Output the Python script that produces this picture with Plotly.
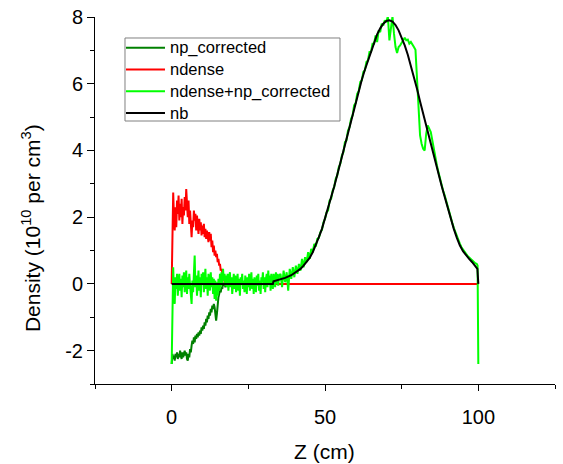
import plotly.graph_objects as go

# ---- data ----
z_fine_np = [0.25 * i for i in range(0, 77)]          # 0 .. 19 cm
np_corrected = [
    -2.4, -2.1, -2.25, -2.15, -2.3, -2.1, -2.2, -2.05, -2.25, -2.1, -2.2, -2.0, -2.15, -2.25,
    -2.05, -2.2, -2.1, -2.0, -2.15, -2.05, -2.25, -2.3, -2.1, -2.2, -1.95, -2.05, -1.85, -1.7,
    -1.8, -1.6, -1.75, -1.55, -1.65, -1.5, -1.6, -1.45, -1.55, -1.4, -1.5, -1.3, -1.4, -1.25,
    -1.35, -1.15, -1.25, -1.05, -1.15, -0.95, -1.05, -0.85, -0.95, -0.75, -0.85, -0.65, -0.75,
    -0.6, -0.7, -0.85, -1.1, -0.9, -0.55, -0.4, -0.3, -0.2, -0.25, -0.1, -0.15, 0.0, -0.05,
    0.05, -0.1, 0.05, 0.0, 0.1, -0.05, 0.05, 0.0,
]

z_nd = [0.25 * i for i in range(0, 71)] + [100]       # 0 .. 17.5 cm, then flat to 100
ndense = [
    0, 2.2, 2.74, 2.0, 1.6, 2.3, 1.7, 2.5, 2.1, 2.65, 1.9, 2.4, 2.0, 2.55, 1.8, 2.3, 2.05, 2.6,
    2.2, 2.84, 2.4, 2.0, 2.5, 1.8, 2.2, 1.6, 1.4, 1.9, 1.7, 2.2, 1.9, 2.1, 1.6, 2.05, 1.75, 1.5,
    1.95, 1.6, 1.85, 1.45, 1.75, 1.5, 1.8, 1.4, 1.65, 1.35, 1.6, 1.45, 1.25, 1.55, 1.3, 1.5,
    1.1, 1.3, 0.95, 1.15, 0.85, 1.0, 0.8, 0.9, 0.65, 0.75, 0.55, 0.6, 0.4, 0.45, 0.3, 0.25,
    0.15, 0.1, 0.0, 0.0,
]

z_sum = ([0] + [0.25 * i for i in range(1, 141)] + [35 + 0.5 * i for i in range(1, 130)]
         + [99.75, 100])
ndense_np = [
    -2.4,
    # 0.25 .. 18.0
    0.35, 0.5, -0.3, -0.6, 0.2, -0.15, 0.3, -0.35, 0.1, 0.3, -0.2, 0.15, -0.4, 0.25, -0.1,
    0.35, -0.25, 0.1, 0.4, -0.3, 0.2, -0.15, 0.3, -0.05, -0.45, -0.6, 0.1, -0.25, 0.3, 0.85,
    -0.1, 0.25, -0.35, 0.15, 0.4, -0.2, 0.2, -0.4, 0.3, 0.0, 0.35, -0.25, 0.1, 0.45, -0.15,
    0.2, -0.35, 0.3, 0.05, -0.2, 0.35, -0.1, 0.2, -0.3, 0.15, -0.45, 0.1, -0.5, 0.05, -0.35,
    0.15, -0.2, 0.3, -0.1, 0.35, 0.0, 0.45, 0.1, 0.3, -0.05, 0.25, -0.1,
    # 18.25 .. 35.0
    0.3, -0.2, 0.15, 0.35, -0.1, 0.2, -0.3, 0.1, 0.3, -0.15, 0.25, -0.25, 0.05, 0.3, -0.2,
    0.15, -0.35, 0.2, 0.0, 0.3, -0.15, 0.1, -0.25, 0.25, 0.05, -0.3, 0.2, -0.1, 0.3, -0.2,
    0.1, 0.35, -0.15, 0.15, -0.3, 0.2, 0.0, -0.25, 0.25, -0.05, 0.3, -0.2, 0.1, -0.3, 0.2,
    0.05, 0.35, -0.15, 0.2, -0.25, 0.15, 0.3, -0.1, 0.4, 0.0, 0.25, -0.2, 0.3, 0.05, -0.15,
    0.3, 0.1, -0.1, 0.35, 0.0, 0.3, -0.05, 0.25,
    # 35.5 .. 50
    0.3, -0.1, 0.4, 0.05, 0.35, -0.2, 0.45, 0.15, 0.5, 0.2, 0.55, 0.3, 0.6, 0.4, 0.75, 0.5,
    0.8, 0.65, 0.95, 0.75, 1.05, 0.95, 1.2, 1.12, 1.35, 1.38, 1.55, 1.62, 1.85, 1.95,
    # 50.5 .. 70
    2.15, 2.2, 2.5, 2.55, 2.8, 2.9, 3.15, 3.25, 3.5, 3.6, 3.85, 3.95, 4.25, 4.3, 4.6, 4.7,
    4.95, 5.05, 5.35, 5.42, 5.7, 5.78, 6.05, 6.1, 6.35, 6.4, 6.65, 6.7, 6.95, 6.95, 7.2, 7.2,
    7.45, 7.25, 7.6, 7.55, 7.8, 7.75, 7.9, 7.85,
    # 70.5 .. 85
    8.02, 7.3, 7.6, 8.02, 7.5, 7.1, 6.92, 7.1, 7.15, 7.25, 7.3, 7.38, 7.3, 7.32, 7.2, 7.25,
    7.15, 7.1, 7.02, 6.2, 5.3, 4.45, 4.2, 4.05, 4.0, 4.5, 4.75, 4.65, 4.55, 4.3,
    # 85.5 .. 99.5
    4.0, 3.75, 3.55, 3.35, 3.15, 2.98, 2.8, 2.66, 2.48, 2.3, 2.14, 1.97, 1.83, 1.68, 1.55,
    1.42, 1.3, 1.2, 1.1, 1.02, 0.95, 0.9, 0.84, 0.8, 0.74, 0.7, 0.65, 0.62, 0.6,
    # 99.75, 100
    0.55, -2.4,
]

z_nb = [0, 33, 33.2, 35, 37, 39, 40, 41, 42, 43, 44, 45, 46, 47, 48, 49, 50, 51, 52, 53, 54,
        55, 56, 57, 58, 59, 60, 61, 62, 63, 64, 65, 66, 67, 68, 69, 70, 71, 72, 73, 74, 75,
        76, 77, 78, 79, 80, 81, 82, 83, 84, 85, 86, 87, 88, 89, 90, 91, 92, 93, 94, 95, 96,
        97, 98, 99, 99.7, 100]
nb = [0, 0, 0.08, 0.12, 0.18, 0.26, 0.32, 0.38, 0.45, 0.55, 0.67, 0.78, 0.95, 1.15, 1.4,
      1.65, 1.95, 2.25, 2.58, 2.92, 3.27, 3.63, 3.98, 4.35, 4.72, 5.1, 5.45, 5.8, 6.12, 6.42,
      6.7, 6.98, 7.25, 7.48, 7.66, 7.8, 7.88, 7.9, 7.86, 7.76, 7.6, 7.4, 7.15, 6.87, 6.55,
      6.2, 5.85, 5.47, 5.1, 4.75, 4.4, 4.02, 3.65, 3.3, 2.95, 2.62, 2.28, 1.95, 1.65, 1.38,
      1.15, 0.98, 0.85, 0.75, 0.65, 0.55, 0.45, 0.0]

x_ticks = [0, 50, 100]
x_minor = [-25, 25, 75, 125]
y_ticks = [-2, 0, 2, 4, 6, 8]
y_minor = [-3, -1, 1, 3, 5, 7]

names = ["np_corrected", "ndense", "ndense+np_corrected", "nb"]
colors = ["#008000", "#FF0000", "#00FF00", "#000000"]

FONT = "Liberation Sans, Arial, sans-serif"

fig = go.Figure()
series = [(z_fine_np, np_corrected), (z_nd, ndense), (z_sum, ndense_np), (z_nb, nb)]
for (xs, ys), name, col in zip(series, names, colors):
    fig.add_trace(go.Scatter(
        x=xs, y=ys, mode="lines",
        name='<span style="font-size:16.5px">' + name + "</span>",
        line=dict(color=col, width=2)))

fig.update_layout(
    width=563, height=464,
    margin=dict(l=95, r=8, t=17, b=80),
    plot_bgcolor="white", paper_bgcolor="white",
    font=dict(family=FONT, size=20, color="black"),
    hovermode=False,
    showlegend=True,
    legend=dict(x=0.0565, y=0.9591, xanchor="left", yanchor="top",
                borderwidth=0, bgcolor="rgba(0,0,0,0)",
                font=dict(family=FONT, size=14.4), tracegroupgap=0,
                itemwidth=39),
    shapes=[
        dict(type="rect", xref="paper", yref="paper",
             x0=0.0652, x1=0.5326, y0=0.7166, y1=0.9428,
             line=dict(color="#808080", width=1), fillcolor="white", layer="below"),
    ],
    annotations=[
        dict(text="Z (cm)", xref="paper", yref="paper", x=0.498, y=-0.183,
             xanchor="center", yanchor="middle", showarrow=False,
             font=dict(family=FONT, size=21)),
        dict(text="Density (10<sup>10</sup> per cm<sup>3</sup>)", xref="paper",
             yref="paper", x=-0.139, y=0.425, xanchor="center", yanchor="middle",
             textangle=-90, showarrow=False, font=dict(family=FONT, size=21)),
    ],
)
fig.update_xaxes(
    range=[-25, 125], tickvals=x_ticks, ticktext=[str(v) for v in x_ticks],
    showline=True, linecolor="black", linewidth=1, mirror=False, automargin=False,
    ticks="outside", ticklen=6, tickcolor="black", showgrid=False, zeroline=False,
    ticklabelstandoff=9,
    minor=dict(tickvals=x_minor, ticks="outside", ticklen=3.5, tickcolor="black"),
)
fig.update_yaxes(
    range=[-3, 8], tickvals=y_ticks, ticktext=[str(v) for v in y_ticks],
    showline=True, linecolor="black", linewidth=1, mirror=False, automargin=False,
    ticks="outside", ticklen=7, tickcolor="black", showgrid=False, zeroline=False,
    minor=dict(tickvals=y_minor, ticks="outside", ticklen=4, tickcolor="black"),
)

fig.write_html("out.html",
               config={"displayModeBar": False, "staticPlot": True},
               post_script="document.body.style.margin='0';document.body.style.padding='0';")
